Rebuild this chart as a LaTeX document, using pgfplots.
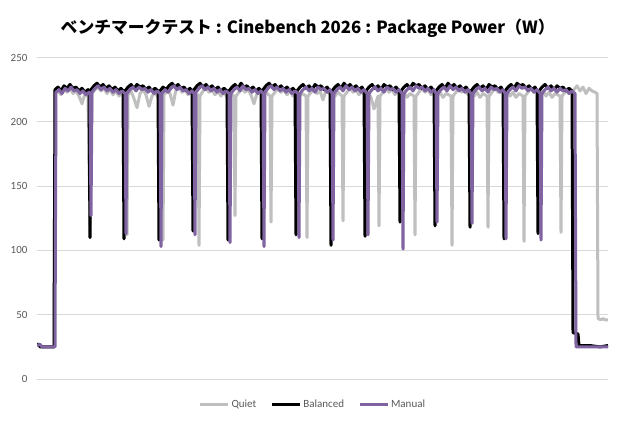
\documentclass[border=0pt]{standalone}
\usepackage{fontspec}
\setmainfont{Carlito}
\newfontfamily\cjk{Noto Sans CJK JP}
\usepackage{pgfplots}
\pgfplotsset{compat=1.18}
\definecolor{cquiet}{HTML}{BFBFBF}
\definecolor{cmanual}{HTML}{8064A2}
\definecolor{ctext}{HTML}{595959}
\definecolor{cgrid}{HTML}{D9D9D9}
\begin{document}
\begin{tikzpicture}
\begin{axis}[
  name=ax, at={(0,0)}, anchor=south west,
  scale only axis, width=571pt, height=321.5pt,
  xmin=37, xmax=608, ymin=0, ymax=250,
  axis line style={draw=none},
  xtick=\empty,
  ytick={0,50,100,150,200,250},
  ymajorgrids, grid style={cgrid, line width=0.8pt},
  major tick length=0pt,
  yticklabel style={font=\fontsize{11}{12}\selectfont, text=ctext, xshift=-6pt},
  /pgf/number format/assume math mode=true,
  title={\cjk\bfseries\fontsize{16.8}{18}\selectfont ベンチマークテスト : Cinebench 2026 : Package Power（W）},
  title style={at={(0.474,1.071)}, anchor=center},
  legend columns=3,
  legend style={at={(0.483,-0.078)}, anchor=center, draw=none, fill=none,
    font=\fontsize{11}{12}\selectfont, text=ctext,
    /tikz/every even column/.append style={column sep=12pt}},
  legend image code/.code={\draw[#1, line width=3pt] (0pt,0pt) -- (28pt,0pt);},
  line join=round,
]
\addplot[cquiet, line width=3pt] coordinates {
(37,27)(40,26)(42,25)(54,25)(55,222)
(58,224)(61,221)(64,225)(67,223)(70,226)(73,222)(76,224)(79,220)(82,214)(85,222)(88,220)(90,120)(92,222)
(95,225)(98,227)(101,224)(104,226)(107,222)(110,225)(113,221)(116,224)(119,220)(122,223)(126,221)(127,112)(128,221)
(131,224)(134,218)(137,211)(140,222)(143,225)(146,221)(149,212)(152,220)(155,223)(158,219)(162,221)(163,108)(164,221)
(167,224)(170,222)(173,213)(176,225)(179,227)(182,223)(185,225)(188,221)(191,223)(194,219)(198,221)(199,104)(200,220)
(203,224)(206,226)(209,223)(212,225)(215,221)(218,224)(221,220)(224,223)(227,219)(230,222)(234,220)(235,127)(236,220)
(239,223)(242,226)(245,223)(248,225)(251,221)(254,214)(257,222)(260,224)(263,220)(266,223)(270,220)(271,122)(272,220)
(275,223)(278,226)(281,223)(284,225)(287,221)(290,224)(293,220)(296,223)(299,219)(302,222)(306,220)(307,110)(308,220)
(311,223)(314,225)(317,222)(320,224)(323,217)(326,225)(329,222)(332,224)(335,220)(338,223)(342,220)(343,123)(344,220)
(347,223)(350,226)(353,223)(356,225)(359,221)(362,224)(365,220)(368,223)(371,219)(374,210)(378,220)(379,119)(380,220)
(383,223)(386,226)(389,223)(392,225)(395,221)(398,224)(401,220)(404,223)(407,219)(410,222)(414,220)(415,112)(416,220)
(419,223)(422,226)(425,223)(428,225)(431,221)(434,224)(437,220)(440,223)(443,219)(446,222)(451,220)(452,104)(453,220)
(456,223)(459,226)(462,223)(465,225)(468,221)(471,224)(474,220)(477,223)(480,219)(483,222)(487,220)(488,118)(489,220)
(492,223)(495,226)(498,223)(501,225)(504,221)(507,224)(510,220)(513,223)(516,219)(519,222)(523,220)(524,107)(525,220)
(528,223)(531,226)(534,223)(537,225)(540,221)(543,224)(546,220)(549,223)(552,219)(555,222)(560,220)(561,114)(562,220)
(565,223)(568,226)(571,223)(574,225)(577,228)(580,224)(583,227)(586,222)(589,226)(592,224)(595,223)(597,222)(598,47)(601,46)(603,47)(605,46)(608,46)
};
\addlegendentry{Quiet}
\addplot[black, line width=3pt] coordinates {
(37,27)(39,27)(40,25)(54,25)(55,225)
(58,227)(61,224)(64,228)(67,226)(70,229)(73,226)(76,227)(79,224)(82,226)(85,223)(88,225)(89,224)(90,110)(91,225)
(94,228)(97,230)(100,227)(103,229)(106,226)(109,228)(112,225)(115,227)(118,224)(121,226)(123,224)(124,109)(125,224)
(128,227)(131,229)(134,226)(137,229)(140,227)(143,228)(146,225)(149,227)(152,224)(155,226)(158,224)(159,108)(160,224)
(163,227)(166,225)(169,228)(172,230)(175,227)(178,229)(181,226)(184,227)(187,224)(190,226)(192,224)(193,115)(194,225)
(197,228)(200,230)(203,227)(206,229)(209,226)(212,228)(215,225)(218,227)(221,224)(224,226)(227,224)(228,108)(229,224)
(232,227)(235,229)(238,226)(241,230)(244,227)(247,228)(250,225)(253,227)(256,224)(259,226)(261,224)(262,109)(263,225)
(266,228)(269,230)(272,227)(275,229)(278,226)(281,228)(284,225)(287,227)(290,224)(293,226)(295,224)(296,112)(297,224)
(300,227)(303,229)(306,226)(309,228)(312,225)(315,229)(318,227)(321,228)(324,225)(327,227)(330,224)(331,104)(332,224)
(335,227)(338,229)(341,226)(344,230)(347,227)(350,229)(353,226)(356,228)(359,225)(362,227)(364,224)(365,111)(366,224)
(369,227)(372,229)(375,226)(378,228)(381,225)(384,229)(387,227)(390,228)(393,225)(396,227)(399,224)(400,122)(401,224)
(404,227)(407,229)(410,226)(413,230)(416,228)(419,229)(422,226)(425,228)(428,225)(431,227)(434,224)(435,119)(436,224)
(439,227)(442,229)(445,226)(448,230)(451,227)(454,229)(457,226)(460,228)(463,225)(466,227)(469,224)(470,118)(471,224)
(474,227)(477,229)(480,226)(483,228)(486,225)(489,229)(492,227)(495,228)(498,225)(501,227)(503,224)(504,109)(505,224)
(508,227)(511,229)(514,226)(517,230)(520,228)(523,229)(526,226)(529,228)(532,225)(535,227)(537,224)(538,113)(539,224)
(542,227)(545,229)(548,226)(551,228)(554,225)(557,228)(560,226)(563,227)(566,224)(569,226)(572,224)(573,36)(578,35)(579,26)(590,26)(600,25)(608,26)
};
\addlegendentry{Balanced}
\addplot[cmanual, line width=3pt] coordinates {
(37,26)(40,27)(42,25)(55,25)(56,223)
(59,225)(62,222)(65,226)(68,224)(71,227)(74,224)(77,225)(80,222)(83,224)(86,221)(89,223)(90,222)(91,127)(92,223)
(95,226)(98,228)(101,225)(104,227)(107,224)(110,226)(113,223)(116,225)(119,222)(122,224)(125,222)(126,113)(127,222)
(130,225)(133,227)(136,224)(139,227)(142,225)(145,226)(148,223)(151,225)(154,222)(157,224)(160,222)(161,103)(162,222)
(165,225)(168,223)(171,226)(174,228)(177,225)(180,227)(183,224)(186,225)(189,222)(192,224)(194,222)(195,112)(196,223)
(199,226)(202,228)(205,225)(208,227)(211,224)(214,226)(217,223)(220,225)(223,222)(226,224)(229,222)(230,106)(231,222)
(234,225)(237,227)(240,224)(243,228)(246,225)(249,226)(252,223)(255,225)(258,222)(261,224)(263,222)(264,103)(265,223)
(268,226)(271,228)(274,225)(277,227)(280,224)(283,226)(286,223)(289,225)(292,222)(295,224)(298,222)(299,110)(300,222)
(303,225)(306,227)(309,224)(312,226)(315,223)(318,227)(321,225)(324,226)(327,223)(330,225)(332,222)(333,108)(334,222)
(337,225)(340,227)(343,224)(346,228)(349,225)(352,227)(355,224)(358,226)(361,223)(364,225)(367,222)(368,112)(369,222)
(372,225)(375,227)(378,224)(381,226)(384,223)(387,227)(390,225)(393,226)(396,223)(399,225)(402,222)(403,101)(404,222)
(407,225)(410,227)(413,224)(416,228)(419,226)(422,227)(425,224)(428,226)(431,223)(434,225)(436,222)(437,122)(438,222)
(441,225)(444,227)(447,224)(450,228)(453,225)(456,227)(459,224)(462,226)(465,223)(468,225)(471,222)(472,121)(473,222)
(476,225)(479,227)(482,224)(485,226)(488,223)(491,227)(494,225)(497,226)(500,223)(503,225)(505,222)(506,109)(507,222)
(510,225)(513,227)(516,224)(519,228)(522,226)(525,227)(528,224)(531,226)(534,223)(537,225)(540,222)(541,108)(542,222)
(545,225)(548,227)(551,224)(554,226)(557,223)(560,226)(563,224)(566,225)(569,222)(572,224)(575,222)(576,25)(590,25)(600,25)(608,25)
};
\addlegendentry{Manual}
\end{axis}
\pgfresetboundingbox
\path[use as bounding box] (-37pt,-41pt) rectangle (583pt,379pt);
\end{tikzpicture}
\end{document}
